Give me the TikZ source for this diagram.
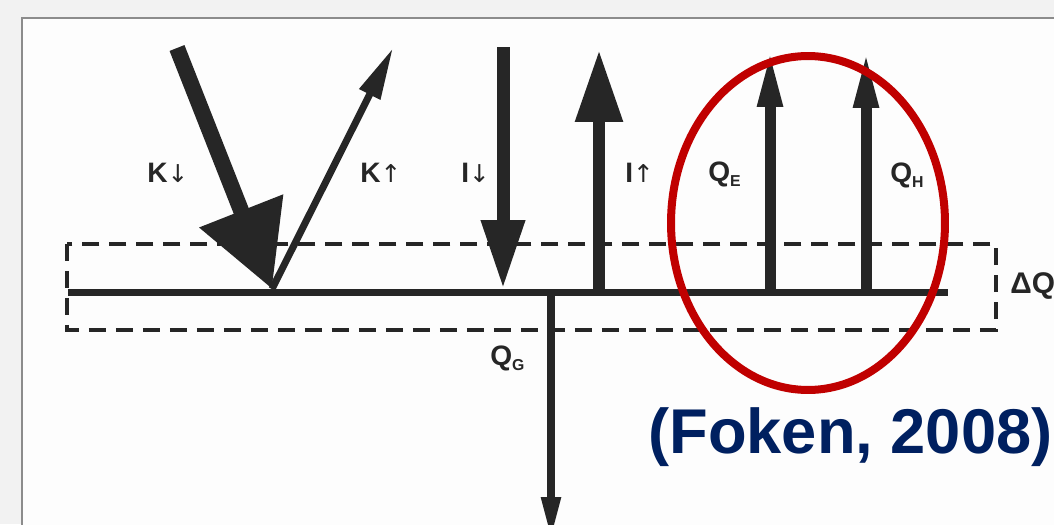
\documentclass[tikz,border=0pt]{standalone}
\usepackage{fontspec}
\setmainfont{Liberation Sans}
\newfontfamily\arrfont{DejaVu Sans}
\usetikzlibrary{arrows.meta,shapes.geometric}
\definecolor{bggray}{HTML}{F2F2F2}
\definecolor{panelwhite}{HTML}{FDFDFD}
\definecolor{framegray}{HTML}{8C8C8C}
\definecolor{ink}{HTML}{262626}
\definecolor{circred}{HTML}{C00000}
\definecolor{navy}{HTML}{002060}
\tikzset{
  flux/.style={draw=ink, line cap=butt},
  lbl/.style={inner sep=0pt, anchor=base west, text=ink, font=\fontsize{16}{16}\selectfont\bfseries},
  dashbox/.style={draw=ink, line width=0.08cm, dash pattern=on 0.34cm off 0.2cm},
}
\newcommand{\sbs}[1]{\raisebox{-0.4ex}{\fontsize{9}{9}\selectfont #1}}
\newcommand{\ar}[1]{{\arrfont\mdseries\fontsize{14}{14}\selectfont #1}}
\begin{document}
\begin{tikzpicture}[x=0.02cm, y=-0.02cm]
\useasboundingbox (0,0) rectangle (1054,524);
\clip (0,0) rectangle (1054,524);
% background and panel
\fill[bggray] (0,0) rectangle (1054,524);
\fill[panelwhite] (22,18) rectangle (1060,530);
\draw[framegray, line width=0.04cm] (22,530) -- (22,18) -- (1060,18);

% coordinates
\coordinate (Ktop) at (177,48);
\coordinate (Kfoot) at (272,289);
\coordinate (Kuptip) at (393,48);
\coordinate (Itop) at (503,47);
\coordinate (Ifoot) at (503,289);
\coordinate (Iupfoot) at (599,292);
\coordinate (Iuptip) at (599,50);
\coordinate (QEfoot) at (770,292);
\coordinate (QEtip) at (770,50);
\coordinate (QHfoot) at (866,292);
\coordinate (QHtip) at (866,51);
\coordinate (QGtop) at (551,292);
\coordinate (QGtip) at (551,540);
\coordinate (GL) at (68,292);
\coordinate (GR) at (948,292);

% dashed layer box
\draw[dashbox] (67,244) rectangle (996,330);

% ground line
\draw[ink, line width=0.14cm] (GL) -- (GR);

% fluxes
\draw[flux, line width=0.32cm, -{Triangle[length=1.68cm, width=1.72cm]}] (Ktop) -- (Kfoot);
\draw[flux, line width=0.14cm, -{Triangle[length=1.04cm, width=0.44cm]}] (Kfoot) -- (Kuptip);
\draw[flux, line width=0.26cm, -{Triangle[length=1.38cm, width=0.82cm]}] (Itop) -- (Ifoot);
\draw[flux, line width=0.24cm, -{Triangle[length=1.44cm, width=0.9cm]}] (Iupfoot) -- (Iuptip);
\draw[flux, line width=0.22cm, -{Triangle[length=1.14cm, width=0.46cm]}] (QEfoot) -- (QEtip);
\draw[flux, line width=0.22cm, -{Triangle[length=1.14cm, width=0.46cm]}] (QHfoot) -- (QHtip);
\draw[flux, line width=0.16cm, -{Triangle[length=0.86cm, width=0.36cm]}] (QGtop) -- (QGtip);

% labels
\node[lbl] (lKd) at (147,182) {K\ar{↓}};
\node[lbl] (lKu) at (360,182) {K\ar{↑}};
\node[lbl] (lId) at (461,182) {I\ar{↓}};
\node[lbl] (lIu) at (625,182) {I\ar{↑}};
\node[lbl] (lQE) at (708,181) {Q\sbs{E}};
\node[lbl] (lQH) at (890,182) {Q\sbs{H}};
\node[lbl] (lQG) at (490,365) {Q\sbs{G}};
\node[lbl, font=\fontsize{17}{17}\selectfont\bfseries] (lDQ) at (1010,293) {ΔQ};

% highlight ellipse
\node[draw=circred, line width=0.16cm, ellipse, minimum width=5.48cm, minimum height=6.68cm, inner sep=0pt] (hl) at (808,223) {};

% citation
\node[inner sep=0pt, anchor=base west, text=navy, font=\fontsize{36}{36}\selectfont\bfseries] (cite) at (648,453) {(Foken, 2008)};
\end{tikzpicture}
\end{document}
